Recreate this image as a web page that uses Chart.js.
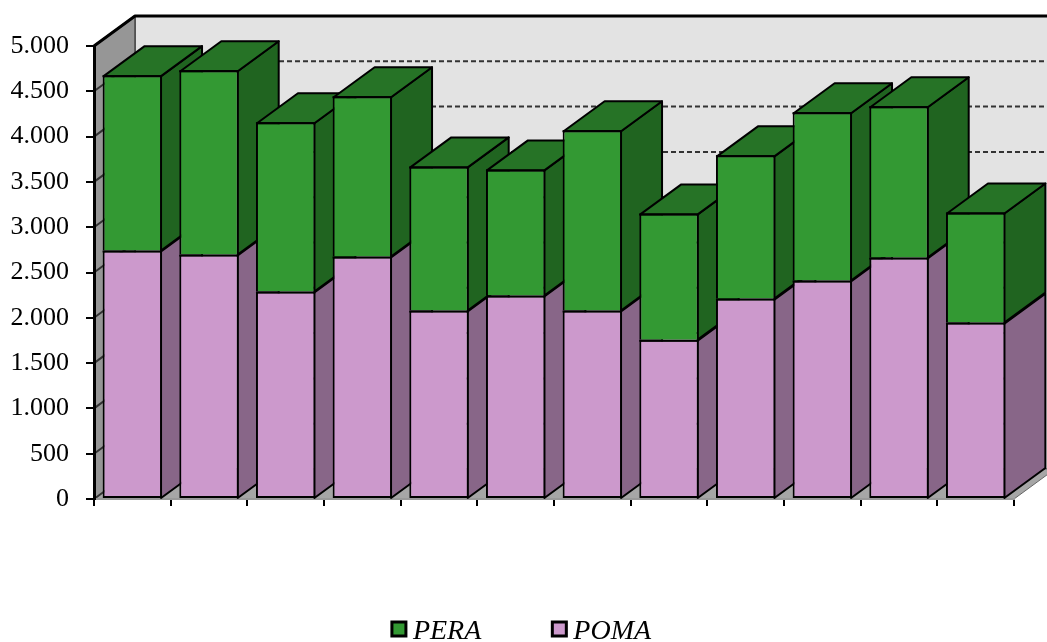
<!DOCTYPE html>
<html>
<head>
<meta charset="utf-8">
<style>
    html, body { margin: 0; padding: 0; background: #fff; overflow: hidden; }
    canvas { display: block; }
</style>
<script src="https://cdn.jsdelivr.net/npm/chart.js@4"></script>
</head>
<body>
<canvas id="myChart" width="1047" height="642"></canvas>
<script>
const categories = ["1", "2", "3", "4", "5", "6", "7", "8", "9", "10", "11", "12"];
const poma = [2743, 2699, 2290, 2677, 2080, 2246, 2080, 1759, 2212, 2411, 2666, 1947];
const pera = [1935, 2034, 1868, 1769, 1591, 1392, 1990, 1393, 1581, 1858, 1669, 1216];
const legendOrder = [1, 0];

const depthX = 41;
const depthY = 30;
const serif = '"Liberation Serif", "Times New Roman", serif';

const face = function (ctx, points, fill) {
    ctx.beginPath();
    ctx.moveTo(points[0][0], points[0][1]);
    for (let i = 1; i < points.length; i++) {
        ctx.lineTo(points[i][0], points[i][1]);
    }
    ctx.closePath();
    ctx.fillStyle = fill;
    ctx.fill();
    ctx.stroke();
};

// back wall, left wall, floor and the dashed lines
const walls = {
    id: "walls",
    beforeDraw(chart) {
        const ctx = chart.ctx;
        const area = chart.chartArea;
        const y = chart.scales.y;
        const l = area.left, r = area.right, t = area.top, b = area.bottom;

        ctx.save();
        ctx.lineJoin = "round";
        ctx.strokeStyle = "#222";
        ctx.lineWidth = 1;
        face(ctx, [[l + depthX, t - depthY], [r + depthX, t - depthY], [r + depthX, b - depthY], [l + depthX, b - depthY]], "#e3e3e3");
        face(ctx, [[l, t], [l + depthX, t - depthY], [l + depthX, b - depthY], [l, b]], "#969696");
        ctx.strokeStyle = "#666";
        face(ctx, [[l, b], [l + depthX, b - depthY], [r + depthX, b - depthY], [r, b]], "#a6a6a6");

        ctx.strokeStyle = "#333";
        ctx.lineWidth = 2;
        y.ticks.forEach((tick) => {
            const py = y.getPixelForValue(tick.value);
            ctx.beginPath();
            ctx.moveTo(l, py);
            ctx.lineTo(l + depthX, py - depthY);
            ctx.stroke();
            if (tick.value > 0 && tick.value < 5000) {
                ctx.setLineDash([5, 3]);
                ctx.beginPath();
                ctx.moveTo(l + depthX, py - depthY);
                ctx.lineTo(r + depthX, py - depthY);
                ctx.stroke();
                ctx.setLineDash([]);
            }
        });

        ctx.strokeStyle = "#000";
        ctx.lineWidth = 3;
        ctx.beginPath();
        ctx.moveTo(l, t);
        ctx.lineTo(l + depthX, t - depthY);
        ctx.lineTo(r + depthX, t - depthY);
        ctx.stroke();
        ctx.restore();
    },
};

// side and top faces of every column, the fronts are the normal bars
const sides = {
    id: "sides",
    beforeDatasetsDraw(chart) {
        const ctx = chart.ctx;
        ctx.save();
        ctx.lineJoin = "round";
        ctx.strokeStyle = "#000";
        ctx.lineWidth = 2;
        categories.forEach((name, i) => {
            chart.data.datasets.forEach((set, d) => {
                const bar = chart.getDatasetMeta(d).data[i];
                const x2 = bar.x + bar.width / 2 - 1;
                const x1 = bar.x - bar.width / 2 + 1;
                const top = bar.y + 1;
                const base = bar.base;
                face(ctx, [[x2, top], [x2 + depthX, top - depthY], [x2 + depthX, base - depthY], [x2, base]], set.sideColor);
                if (d == chart.data.datasets.length - 1) {
                    face(ctx, [[x1, top], [x1 + depthX, top - depthY], [x2 + depthX, top - depthY], [x2, top]], set.topColor);
                }
            });
        });
        ctx.restore();
    },
    // the line between the two stacked fronts, and the one on top
    afterDatasetsDraw(chart) {
        const ctx = chart.ctx;
        ctx.save();
        ctx.strokeStyle = "#000";
        ctx.lineWidth = 2;
        chart.data.datasets.forEach((set, d) => {
            chart.getDatasetMeta(d).data.forEach((bar) => {
                ctx.beginPath();
                ctx.moveTo(bar.x - bar.width / 2, bar.y + 1);
                ctx.lineTo(bar.x + bar.width / 2, bar.y + 1);
                ctx.stroke();
            });
        });
        ctx.restore();
    },
};

// legend is drawn here because the built in one keeps a wider gap before the text
const legendRow = {
    id: "legendRow",
    afterDraw(chart) {
        const ctx = chart.ctx;
        const box = 16;
        const gap = 6;
        const space = 70;
        const sets = legendOrder.map((d) => chart.data.datasets[d]);

        ctx.save();
        ctx.font = "italic 28px " + serif;
        ctx.textBaseline = "alphabetic";
        let total = space * (sets.length - 1);
        sets.forEach((set) => {
            total += box + gap + ctx.measureText(set.label).width;
        });
        let x = (chart.width - total) / 2 - 2.5;
        sets.forEach((set) => {
            ctx.fillStyle = set.backgroundColor;
            ctx.strokeStyle = "#000";
            ctx.lineWidth = 3;
            ctx.fillRect(x, 621, box, box);
            ctx.strokeRect(x + 1, 622, box - 2, box - 2);
            ctx.fillStyle = "#000";
            ctx.fillText(set.label, x + box + gap, 639);
            x += box + gap + ctx.measureText(set.label).width + space;
        });
        ctx.restore();
    },
};

new Chart(document.querySelector("#myChart"), {
    type: "bar",
    plugins: [walls, sides, legendRow],
    data: {
        labels: categories,
        datasets: [
            {
                label: "POMA",
                data: poma,
                backgroundColor: "#cc99cc",
                sideColor: "#886688",
                topColor: "#886688",
                borderColor: "#000",
                borderWidth: 2,
                borderSkipped: false,
            },
            {
                label: "PERA",
                data: pera,
                backgroundColor: "#339933",
                sideColor: "#206420",
                topColor: "#267326",
                borderColor: "#000",
                borderWidth: { top: 2, left: 2, right: 2, bottom: 0 },
                borderSkipped: false,
            },
        ],
    },
    options: {
        responsive: false,
        animation: false,
        barPercentage: 0.775,
        categoryPercentage: 1,
        layout: {
            padding: { left: 0, right: 33, top: 46, bottom: 0 },
        },
        plugins: {
            legend: { display: false },
            tooltip: { enabled: false },
        },
        scales: {
            x: {
                stacked: true,
                afterFit(scale) {
                    scale.height = 143;
                },
                ticks: { display: false },
                grid: {
                    drawOnChartArea: false,
                    color: "#000",
                    lineWidth: 2,
                    tickLength: 7,
                },
                border: { color: "#999", width: 2 },
            },
            y: {
                stacked: true,
                min: 0,
                max: 5000,
                afterFit(scale) {
                    scale.width = 94;
                },
                ticks: {
                    stepSize: 500,
                    color: "#000",
                    padding: 17,
                    font: { family: serif, size: 26 },
                    callback: (value) => String(value).replace(/\B(?=(\d{3})+$)/, "."),
                },
                grid: {
                    drawOnChartArea: false,
                    color: "#000",
                    lineWidth: 2,
                    tickLength: 8,
                },
                border: { color: "#000", width: 3 },
            },
        },
    },
});
</script>
</body>
</html>
